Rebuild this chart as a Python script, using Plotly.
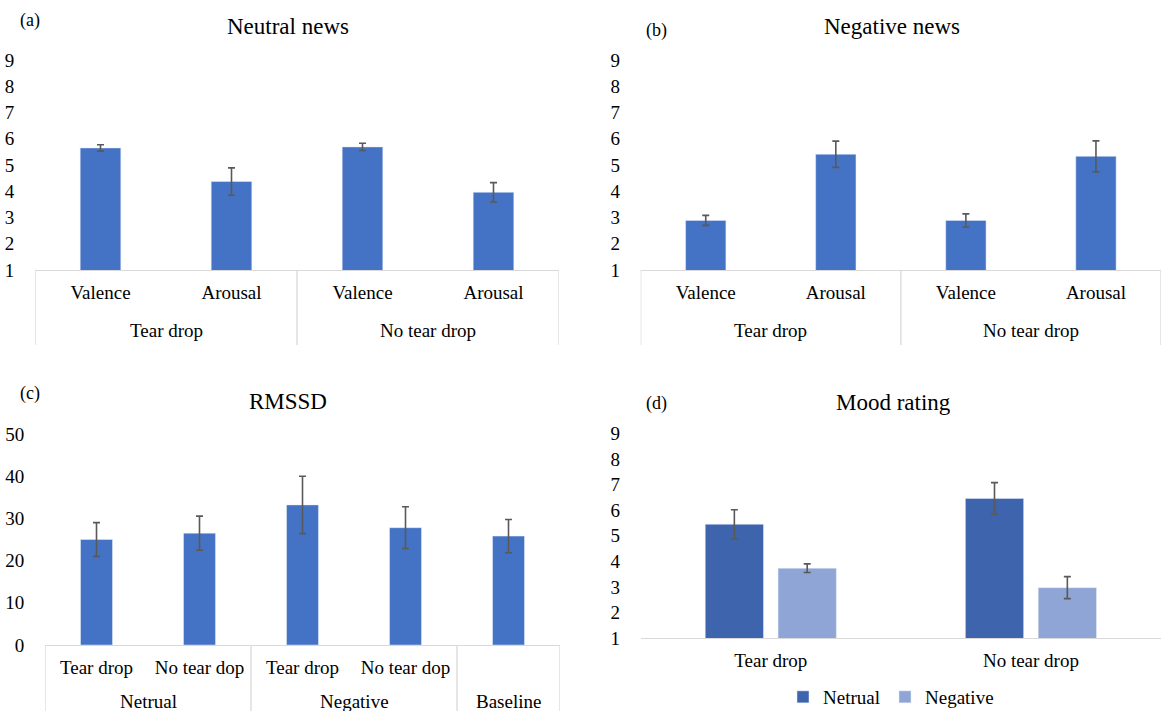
import plotly.graph_objects as go

# ---- data ----
news_groups = ["Tear drop", "Tear drop", "No tear drop", "No tear drop"]
news_measures = ["Valence", "Arousal", "Valence", "Arousal"]

neutral_vals = [5.65, 4.37, 5.69, 3.96]
neutral_err = [0.12, 0.52, 0.14, 0.37]

negative_vals = [2.89, 5.41, 2.89, 5.33]
negative_err = [0.19, 0.50, 0.25, 0.59]

rmssd_groups = ["Netrual", "Netrual", "Negative", "Negative", "Baseline"]
rmssd_conds = ["Tear drop", "No tear dop", "Tear drop", "No tear dop", ""]
rmssd_vals = [25.0, 26.5, 33.2, 27.8, 25.8]
rmssd_err = [4.0, 4.05, 6.8, 4.95, 3.95]

mood_cats = ["Tear drop", "No tear drop"]
mood_neutral = [5.45, 6.46]
mood_neutral_err = [0.57, 0.62]
mood_negative = [3.73, 2.97]
mood_negative_err = [0.17, 0.43]

# ---- style ----
FONT = "Liberation Serif"
BLUE = "#4472C4"
DARK = "#3D64AD"
LIGHT = "#8FA5D5"
ERR = "#595959"
AXIS = "#D9D9D9"
W, H = 1161, 711


def px(x):
    return x / W


def py(y):
    return 1 - y / H


def err(vals):
    return dict(type="data", array=vals, visible=True, color=ERR,
                thickness=1.6, width=3.5)


tickfont = dict(family=FONT, size=19, color="#000000")

fig = go.Figure()


def grouped_panel(n, groups, subs, vals, errs, axis_y, box_bottom, group_y):
    """Bar panel with a two-level category axis (sub labels + boxed groups)."""
    xs = list(range(len(vals)))
    xa = "x" if n == 1 else f"x{n}"
    ya = "y" if n == 1 else f"y{n}"
    fig.add_trace(go.Bar(x=xs, y=vals, error_y=err(errs), marker_color=BLUE,
                         width=0.31, showlegend=False, xaxis=xa, yaxis=ya))
    # group spans
    spans = []
    start = 0
    for i in range(1, len(groups) + 1):
        if i == len(groups) or groups[i] != groups[start]:
            spans.append((groups[start], start, i - 1))
            start = i
    bounds = [spans[0][1] - 0.5] + [s[2] + 0.5 for s in spans]
    for b in bounds:
        fig.add_shape(type="line", xref=xa, yref="paper", x0=b, x1=b,
                      y0=py(axis_y), y1=py(box_bottom),
                      line=dict(color=AXIS, width=1.3), layer="below")
    for name, a, b in spans:
        fig.add_annotation(text=name, xref=xa, yref="paper", x=(a + b) / 2,
                           y=py(group_y), xanchor="center", yanchor="middle",
                           showarrow=False, font=tickfont)
    return dict(tickmode="array", tickvals=xs, ticktext=subs,
                range=[-0.5, len(vals) - 0.5])


common_x = dict(showline=True, linecolor=AXIS, linewidth=1.3, ticks="outside",
                ticklen=0, ticklabelstandoff=5, tickfont=tickfont,
                showgrid=False, zeroline=False, fixedrange=True)


def yax(domain, anchor, rng, dtick):
    return dict(domain=domain, anchor=anchor, range=rng, dtick=dtick,
                tick0=rng[0], showline=False, showgrid=False, zeroline=False,
                ticks="outside", ticklen=0, ticklabelstandoff=16,
                tickfont=tickfont, fixedrange=True)


xa1 = grouped_panel(1, news_groups, news_measures, neutral_vals, neutral_err,
                    270, 345, 330)
xa2 = grouped_panel(2, news_groups, news_measures, negative_vals,
                    negative_err, 270, 345, 330)
xa3 = grouped_panel(3, rmssd_groups, rmssd_conds, rmssd_vals, rmssd_err,
                    645, 712, 701)

fig.add_trace(go.Bar(x=mood_cats, y=mood_neutral, name="Netrual",
                     error_y=err(mood_neutral_err), marker_color=DARK,
                     xaxis="x4", yaxis="y4"))
fig.add_trace(go.Bar(x=mood_cats, y=mood_negative, name="Negative",
                     error_y=err(mood_negative_err), marker_color=LIGHT,
                     xaxis="x4", yaxis="y4"))

fig.update_layout(
    width=W, height=H,
    margin=dict(l=0, r=0, t=0, b=0, autoexpand=False),
    paper_bgcolor="white", plot_bgcolor="white",
    barmode="group", bargap=0.44, bargroupgap=0.2,
    xaxis=dict(domain=[px(35), px(559)], anchor="y", **xa1, **common_x),
    yaxis=yax([py(270), py(60)], "x", [1, 9], 1),
    xaxis2=dict(domain=[px(640.7), 1.0], anchor="y2", **xa2, **common_x),
    yaxis2=yax([py(270), py(60)], "x2", [1, 9], 1),
    xaxis3=dict(domain=[px(45), px(560)], anchor="y3", **xa3, **common_x),
    yaxis3=yax([py(645), py(434)], "x3", [0, 50], 10),
    xaxis4=dict(domain=[px(640.7), 1.0], anchor="y4", type="category",
                **common_x),
    yaxis4=yax([py(638), py(433.5)], "x4", [1, 9], 1),
    legend=dict(orientation="h", x=px(891), xanchor="center",
                y=py(697), yanchor="middle",
                font=dict(family=FONT, size=19, color="#000000"),
                itemwidth=30, bgcolor="rgba(0,0,0,0)"),
)

texts = [
    ("Neutral news", 288, 27, 23), ("Negative news", 892, 27, 23),
    ("RMSSD", 288, 401, 23), ("Mood rating", 893, 402, 23),
    ("(a)", 30, 20, 18), ("(b)", 656, 30, 18),
    ("(c)", 30, 393, 18), ("(d)", 656, 403, 18),
]
for t, x, y, s in texts:
    fig.add_annotation(text=t, x=px(x), y=py(y), xref="paper", yref="paper",
                       xanchor="center", yanchor="middle", showarrow=False,
                       font=dict(family=FONT, size=s, color="#000000"))

fig.write_html("out.html")
